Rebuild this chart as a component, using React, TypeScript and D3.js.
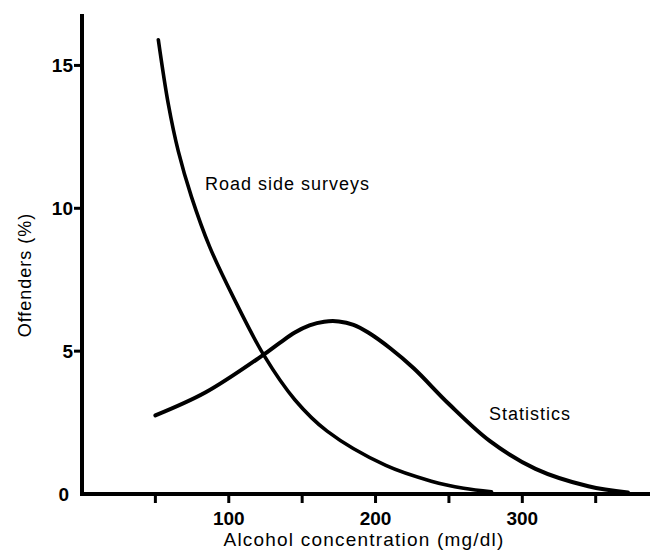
import React from "react";
import * as d3 from "d3";

const roadX = [52, 58.8, 65.6, 74.6, 87, 103, 124, 145, 167, 207, 238, 260, 279];
const roadY = [15.9, 13.65, 12.0, 10.4, 8.65, 6.9, 4.85, 3.3, 2.2, 1.0, 0.45, 0.2, 0.08];
const statX = [50, 84, 123, 135, 145, 155, 165, 175, 185, 195, 210, 226, 250, 278, 309, 345, 372];
const statY = [2.75, 3.55, 4.85, 5.3, 5.65, 5.9, 6.03, 6.04, 5.92, 5.65, 5.1, 4.4, 3.15, 1.85, 0.88, 0.27, 0.05];
const xTicks = [50, 100, 150, 200, 250, 300, 350];
const xTickLabels = [100, 200, 300];
const yTicks = [5, 10, 15];
const yTickLabels = [0, 5, 10, 15];

const W = 650;
const H = 556;
const FONT = "'Liberation Sans', Arial, Helvetica, sans-serif";

export default function App() {
  const x = d3.scaleLinear().domain([0, 387]).range([82, 650]);
  const y = d3.scaleLinear().domain([0, 16.8]).range([494, 14]);
  const line = d3
    .line<[number, number]>()
    .x((d) => x(d[0]))
    .y((d) => y(d[1]))
    .curve(d3.curveCatmullRom.alpha(0.5));
  const road = roadX.map((v, i) => [v, roadY[i]] as [number, number]);
  const stat = statX.map((v, i) => [v, statY[i]] as [number, number]);

  return (
    <svg
      width={W}
      height={H}
      style={{ position: "absolute", left: 0, top: 0, background: "#fff" }}
      fontFamily={FONT}
    >
      <rect width={W} height={H} fill="#fff" />
      {/* axes */}
      <line x1={x(0)} x2={x(0)} y1={y(16.8)} y2={y(0) + 2} stroke="#000" strokeWidth={4} />
      <line x1={x(0) - 2} x2={W} y1={y(0)} y2={y(0)} stroke="#000" strokeWidth={4} />
      {xTicks.map((t) => (
        <line key={"xt" + t} x1={x(t)} x2={x(t)} y1={y(0)} y2={y(0) + 9} stroke="#000" strokeWidth={3} />
      ))}
      {yTicks.map((t) => (
        <line key={"yt" + t} x1={x(0) - 8} x2={x(0)} y1={y(t)} y2={y(t)} stroke="#000" strokeWidth={3} />
      ))}
      {xTickLabels.map((t) => (
        <text key={"xl" + t} x={x(t)} y={y(0) + 31} textAnchor="middle" fontSize={19} fontWeight="bold" fill="#000">
          {t}
        </text>
      ))}
      {yTickLabels.map((t) => (
        <text
          key={"yl" + t}
          x={x(0) - (t === 0 ? 13 : 9)}
          y={y(t) + 7}
          textAnchor="end"
          fontSize={19}
          fontWeight="bold"
          fill="#000"
        >
          {t}
        </text>
      ))}
      {/* axis titles */}
      <text x={364} y={546} textAnchor="middle" fontSize={19} letterSpacing={1.2} fill="#000">
        Alcohol concentration (mg/dl)
      </text>
      <text
        transform={`translate(31, 275) rotate(-90)`}
        textAnchor="middle"
        fontSize={18}
        letterSpacing={1}
        fill="#000"
      >
        Offenders (%)
      </text>
      {/* curves */}
      <path d={line(road) || ""} fill="none" stroke="#000" strokeWidth={3.6} strokeLinecap="round" />
      <path d={line(stat) || ""} fill="none" stroke="#000" strokeWidth={4} strokeLinecap="round" />
      {/* labels */}
      <text x={205} y={190} fontSize={18} letterSpacing={1} fill="#000">
        Road side surveys
      </text>
      <text x={489} y={420} fontSize={18} letterSpacing={1} fill="#000">
        Statistics
      </text>
    </svg>
  );
}
